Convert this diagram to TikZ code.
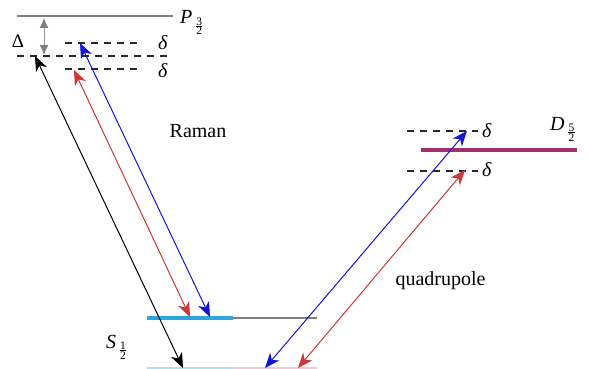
\documentclass[tikz,border=0pt]{standalone}
\usepackage{fontspec}
\setmainfont{Liberation Serif}
\usetikzlibrary{arrows.meta}
\definecolor{lvgray}{RGB}{128,128,128}
\definecolor{dgray}{RGB}{150,150,150}
\definecolor{dashc}{RGB}{40,40,40}
\definecolor{myred}{RGB}{205,55,55}
\definecolor{myblue}{RGB}{20,20,215}
\definecolor{dpurple}{RGB}{165,45,110}
\definecolor{sblue}{RGB}{45,165,220}
\definecolor{lblue}{RGB}{175,225,242}
\definecolor{lpink}{RGB}{242,200,215}
\newcommand{\sfr}[2]{\kern3.5pt\raisebox{-11pt}{\fontsize{11.5}{11.5}\selectfont\vbox{\offinterlineskip\halign{\hfil##\hfil\cr #1\cr\noalign{\kern0.8pt}\rule{6.5pt}{0.6pt}\cr\noalign{\kern0.8pt}#2\cr}}}}
\tikzset{
  lbl/.style={inner sep=0pt, font=\fontsize{20}{24}\selectfont},
  dlev/.style={dashc, line width=1.2pt, dash pattern=on 7pt off 6pt},
  trans/.style={line width=1pt, {Stealth[length=15pt,width=12pt,inset=4.5pt]}-{Stealth[length=15pt,width=12pt,inset=4.5pt]}},
}
\begin{document}
\begin{tikzpicture}[x=1pt,y=-1pt]
\useasboundingbox (0,0) rectangle (589,369);
% P level
\draw[lvgray, line width=2pt] (17,16) -- (173,16);
\node[lbl, anchor=base west] (P) at (180,24) {\textit{P}\sfr{3}{2}};
% Delta
\coordinate (dtop) at (44,18);
\coordinate (dbot) at (44,55);
\draw[dgray, line width=1pt, {Latex[length=10pt,width=9pt,color=gray]}-{Latex[length=10pt,width=9pt,color=gray]}] (dtop) -- (dbot);
\node[inner sep=0pt, font=\fontsize{19}{22}\selectfont] (Dl) at (18,41) {Δ};
% dashed levels left
\draw[dlev] (65,43) -- (137,43);
\draw[dlev] (17,56) -- (173,56);
\draw[dlev] (65,69) -- (137,69);
\node[lbl] (d1) at (163,43) {\textit{δ}};
\node[lbl] (d2) at (163,71) {\textit{δ}};
% D level
\draw[dpurple, line width=3.5pt] (421,150) -- (577,150);
\draw[dlev] (407,131) -- (478,131);
\draw[dlev] (407,171) -- (478,171);
\node[lbl] (d3) at (487,131) {\textit{δ}};
\node[lbl] (d4) at (487,170) {\textit{δ}};
\node[lbl, anchor=base west] (D) at (550,130) {\textit{D}\sfr{5}{2}};
% S levels
\draw[sblue, line width=4pt] (147,318) -- (233,318);
\draw[lvgray, line width=1.5pt] (233,318) -- (317,318);
\draw[lblue, line width=1.5pt] (147,368) -- (233,368);
\draw[lpink, line width=1.5pt] (233,368) -- (317,368);
\node[lbl, anchor=base west] (S) at (106,348) {\textit{S}\sfr{1}{2}};
% labels
\node[lbl] (raman) at (198,131.5) {Raman};
\node[lbl, anchor=base] (quad) at (440.5,285) {quadrupole};
% transition endpoints
\coordinate (bkT) at (35,56);   \coordinate (bkB) at (183,368);
\coordinate (rlT) at (74,70);   \coordinate (rlB) at (190,317);
\coordinate (blT) at (80,43);   \coordinate (blB) at (210,317);
\coordinate (brT) at (467,131); \coordinate (brB) at (265,368);
\coordinate (rrT) at (465,170); \coordinate (rrB) at (298,368);
\draw[trans, black] (bkT) -- (bkB);
\draw[trans, myred] (rlT) -- (rlB);
\draw[trans, myblue] (blT) -- (blB);
\draw[trans, myblue] (brB) -- (brT);
\draw[trans, myred] (rrB) -- (rrT);
\end{tikzpicture}
\end{document}
